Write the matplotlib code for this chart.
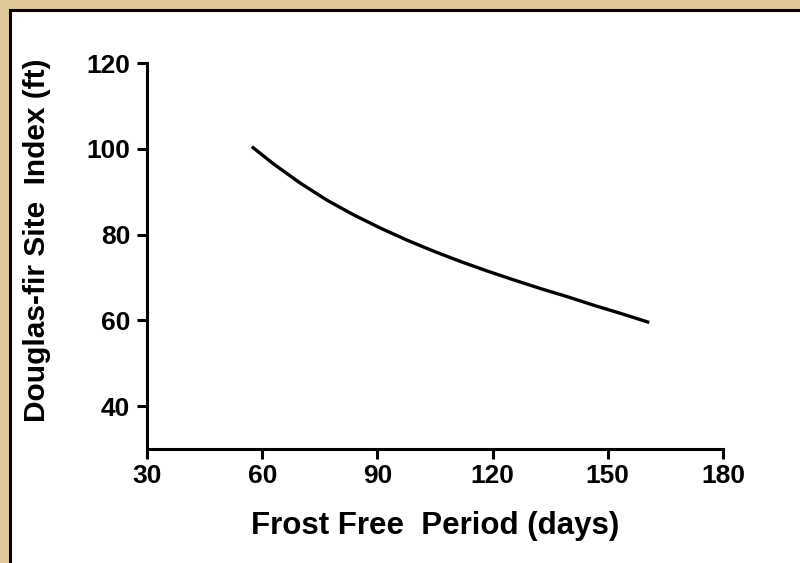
import matplotlib
matplotlib.use("Agg")
import matplotlib.pyplot as plt
from matplotlib.patches import Rectangle

# values
frost_free_days = [57.3, 62.9, 69.9, 76.9, 83.8, 90.8, 97.7, 104.7, 111.7,
                   118.6, 125.6, 132.5, 139.5, 146.4, 153.4, 160.8]
site_index_ft = [100.5, 96.5, 92.0, 88.0, 84.6, 81.5, 78.7, 76.1, 73.7,
                 71.5, 69.4, 67.4, 65.5, 63.5, 61.6, 59.5]

x_ticks = [30, 60, 90, 120, 150, 180]
y_ticks = [40, 60, 80, 100, 120]

plt.rcParams['font.family'] = ['Liberation Sans', 'DejaVu Sans']

fig = plt.figure(figsize=(8, 5.63), dpi=100)
fig.patch.set_facecolor('#e0c797')

# white panel with black edge (only top/left edge falls inside the image)
panel = Rectangle((10 / 800, -0.05), 1.0, 1 - 10 / 563 + 0.05, transform=fig.transFigure,
                  facecolor='white', edgecolor='black', linewidth=2.2, zorder=-10)
fig.add_artist(panel)

ax = fig.add_axes([147 / 800, 1 - 449 / 563, (723 - 147) / 800, (449 - 63) / 563])
ax.set_facecolor('none')
ax.set_zorder(5)

ax.plot(frost_free_days, site_index_ft, color='black', linewidth=2.4,
        solid_capstyle='butt', solid_joinstyle='round')

ax.set_xlim(30, 180)
ax.set_ylim(30, 120)
ax.set_xticks(x_ticks)
ax.set_yticks(y_ticks)

for side in ['top', 'right']:
    ax.spines[side].set_visible(False)
for side in ['left', 'bottom']:
    ax.spines[side].set_linewidth(2.2)
    ax.spines[side].set_capstyle('projecting')

ax.tick_params(axis='both', length=7, width=2.2, labelsize=19)
ax.tick_params(axis='x', pad=4)
ax.tick_params(axis='y', pad=5)
for lbl in ax.get_xticklabels() + ax.get_yticklabels():
    lbl.set_fontweight('bold')

ax.set_xlabel("Frost Free  Period (days)", fontsize=22.5, fontweight='bold')
ax.set_ylabel("Douglas-fir Site  Index (ft)", fontsize=21.5, fontweight='bold')
ax.xaxis.set_label_coords(0.5, -0.16)
ax.yaxis.set_label_coords(-0.167, 0.54)

fig.savefig("out.png", dpi=100, facecolor=fig.get_facecolor())
